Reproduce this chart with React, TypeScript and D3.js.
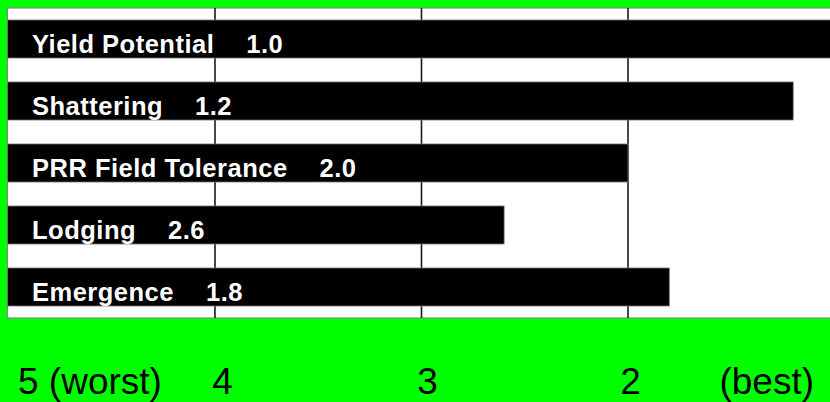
import React from "react";
import * as d3 from "d3";

const traits = ["Yield Potential", "Shattering", "PRR Field Tolerance", "Lodging", "Emergence"];
const scores = [1.0, 1.2, 2.0, 2.6, 1.8];
const scoreLabels = ["1.0", "1.2", "2.0", "2.6", "1.8"];
const tickValues = [5, 4, 3, 2, 1];
const tickLabels = ["5 (worst)", "4", "3", "2", "(best)"];
const gridValues = [4, 3, 2];

const W = 830;
const H = 402;
const plot = { left: 8.5, right: 834.5, top: 8, bottom: 318 };
const FONT = "'Liberation Sans', Arial, Helvetica, sans-serif";
const tickNudge = [9.5, 7.5, 6, 2.5, -20.5];

export default function App() {
  const x = d3.scaleLinear().domain([5, 1]).range([plot.left, plot.right]);
  const y = d3
    .scaleBand<string>()
    .domain(traits)
    .range([plot.top, plot.bottom])
    .paddingInner(0.387)
    .paddingOuter(0.1935);

  return (
    <svg
      width={W}
      height={H}
      style={{ position: "fixed", left: 0, top: 0, display: "block" }}
      fontFamily={FONT}
    >
      <rect x={0} y={0} width={W} height={H} fill="#00ff00" />
      <rect
        x={plot.left - 1}
        y={plot.top}
        width={plot.right - plot.left + 1}
        height={plot.bottom - plot.top}
        fill="#ffffff"
        stroke="#888888"
        strokeWidth={1.2}
      />
      {gridValues.map((v) => (
        <line
          key={v}
          x1={x(v)}
          x2={x(v)}
          y1={plot.top}
          y2={plot.bottom}
          stroke="#1a1a1a"
          strokeWidth={1.6}
        />
      ))}
      {traits.map((t, i) => {
        const top = y(t) as number;
        return (
          <g key={t}>
            <rect
              x={plot.left - 1}
              y={top}
              width={x(scores[i]) - plot.left + 1}
              height={y.bandwidth()}
              fill="#000000"
              stroke="#777777"
              strokeWidth={0.8}
            />
            <text
              x={32}
              y={top + 33}
              fill="#ffffff"
              fontSize={25.5}
              fontWeight="bold"
              letterSpacing={0.5}
            >
              {t}
              <tspan dx={32}>{scoreLabels[i]}</tspan>
            </text>
          </g>
        );
      })}
      {tickValues.map((v, i) => {
        const last = i === tickValues.length - 1;
        const first = i === 0;
        const anchor = first ? "start" : last ? "end" : "middle";
        return (
          <text
            key={v}
            x={x(v) + tickNudge[i]}
            y={394}
            textAnchor={anchor}
            fontSize={37}
            fill="#000000"
          >
            {tickLabels[i]}
          </text>
        );
      })}
    </svg>
  );
}
